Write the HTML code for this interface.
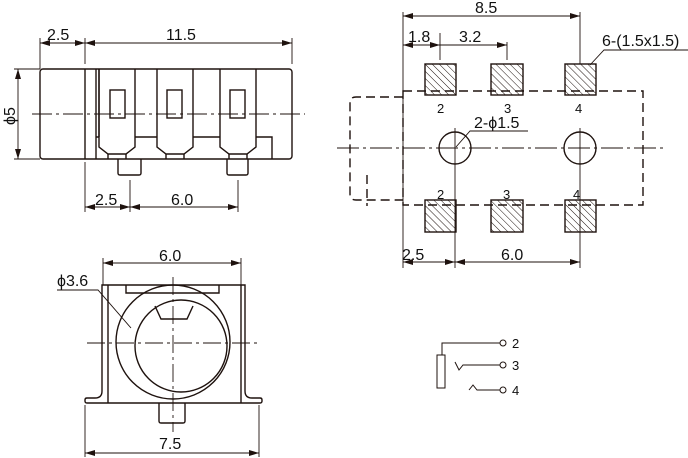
<!DOCTYPE html>
<html><head><style>body{margin:0;background:#fff}svg{display:block}</style></head><body>
<svg width="688" height="458" viewBox="0 0 688 458" xmlns="http://www.w3.org/2000/svg" font-family="Liberation Sans, sans-serif" fill="none" stroke="#1e120e" stroke-width="1.4">
<defs>
<marker id="a" viewBox="0 0 10 6" refX="10" refY="3" markerWidth="10" markerHeight="6" orient="auto-start-reverse" markerUnits="userSpaceOnUse"><path d="M0,0L10,3L0,6z" fill="#1e120e" stroke="none"/></marker>
<pattern id="h" width="5" height="5" patternUnits="userSpaceOnUse" patternTransform="rotate(-45)"><line x1="0" y1="0" x2="0" y2="5" stroke="#1e120e" stroke-width="1"/></pattern>
</defs>
<g fill="#111" stroke="none" font-size="16">
<text x="47" y="40">2.5</text><text x="166" y="40">11.5</text>
<text x="95" y="205">2.5</text><text x="171" y="205">6.0</text>
<text transform="translate(15,125) rotate(-90)">ϕ5</text>
<text x="475" y="13">8.5</text><text x="408" y="42">1.8</text><text x="459" y="42">3.2</text>
<text x="602" y="46">6-(1.5x1.5)</text><text x="474" y="128">2-ϕ1.5</text>
<text x="402" y="260">2.5</text><text x="501" y="260">6.0</text>
<text x="159" y="261">6.0</text><text x="57" y="286">ϕ3.6</text><text x="159" y="449">7.5</text>
<g font-size="13"><text x="437" y="113">2</text><text x="504" y="113">3</text><text x="575" y="113">4</text>
<text x="437" y="199">2</text><text x="503" y="199">3</text><text x="573" y="199">4</text>
<text x="512" y="348">2</text><text x="512" y="370">3</text><text x="512" y="395">4</text></g>
</g>
<!-- side view -->
<rect x="40" y="69" width="252" height="90" rx="3"/>
<line x1="85" y1="69" x2="85" y2="159"/><line x1="96" y1="69" x2="96" y2="159"/><line x1="99" y1="69" x2="99" y2="137"/>
<path d="M99,69V147L108,154H126L135,147V69"/><path d="M157,69V147L166,154H184L193,147V69"/><path d="M220,69V147L229,154H247L256,147V69"/>
<path d="M108,154V159M126,154V159M166,154V159M184,154V159M229,154V159M247,154V159"/>
<path d="M96,137H99M135,137H157M193,137H220M256,137H272V159"/>
<rect x="110" y="90" width="15" height="28"/><rect x="167" y="90" width="15" height="28"/><rect x="230" y="90" width="15" height="28"/>
<path d="M118,159V173Q118,175 120,175H139Q141,175 141,173V159M227,159V173Q227,175 229,175H246Q248,175 248,173V159"/>
<line x1="32" y1="114" x2="305" y2="114" stroke-dasharray="20,4,3,4" stroke-width="0.9"/>
<g stroke-width="0.9">
<line x1="40" y1="38" x2="40" y2="69"/><line x1="85" y1="38" x2="85" y2="64"/><line x1="292" y1="38" x2="292" y2="64"/>
<line x1="40" y1="43" x2="85" y2="43" marker-start="url(#a)" marker-end="url(#a)"/><line x1="85" y1="43" x2="292" y2="43" marker-start="url(#a)" marker-end="url(#a)"/>
<line x1="14" y1="69" x2="40" y2="69"/><line x1="14" y1="159" x2="40" y2="159"/><line x1="18" y1="69" x2="18" y2="159" marker-start="url(#a)" marker-end="url(#a)"/>
<line x1="85" y1="162" x2="85" y2="212"/><line x1="130" y1="180" x2="130" y2="212"/><line x1="238" y1="180" x2="238" y2="212"/>
<line x1="85" y1="207" x2="130" y2="207" marker-start="url(#a)" marker-end="url(#a)"/><line x1="130" y1="207" x2="238" y2="207" marker-start="url(#a)" marker-end="url(#a)"/>
</g>
<!-- footprint -->
<g stroke-dasharray="9,5">
<path d="M403,91H643V205H403Z"/><path d="M403,97H356Q350,97 350,103V194Q350,200 356,200H403"/><line x1="367" y1="175" x2="367" y2="206"/>
</g>
<g fill="url(#h)">
<rect x="425" y="64" width="31" height="31"/><rect x="491" y="64" width="32" height="31"/><rect x="565" y="64" width="31" height="31"/>
<rect x="425" y="200" width="31" height="32"/><rect x="491" y="200" width="32" height="32"/><rect x="565" y="200" width="31" height="32"/>
</g>
<circle cx="455" cy="148" r="16"/><circle cx="580" cy="148" r="16"/>
<g stroke-width="0.9">
<line x1="337" y1="148" x2="663" y2="148" stroke-dasharray="22,4,3,4"/>
<line x1="455" y1="128" x2="455" y2="268"/><line x1="580" y1="128" x2="580" y2="268"/>
<line x1="403" y1="12" x2="403" y2="268"/><line x1="580" y1="12" x2="580" y2="64"/>
<line x1="403" y1="16" x2="580" y2="16" marker-start="url(#a)" marker-end="url(#a)"/>
<line x1="440" y1="33" x2="440" y2="60"/><line x1="507" y1="42" x2="507" y2="60"/>
<line x1="403" y1="45" x2="440" y2="45" marker-start="url(#a)" marker-end="url(#a)"/><line x1="440" y1="45" x2="507" y2="45" marker-end="url(#a)"/>
<path d="M688,50H604L590,65" /><path d="M528,131H470L456,147"/>
<line x1="403" y1="262" x2="455" y2="262" marker-start="url(#a)" marker-end="url(#a)"/><line x1="455" y1="262" x2="580" y2="262" marker-start="url(#a)" marker-end="url(#a)"/>
</g>
<!-- front view -->
<path d="M102,285V391Q102,398 95,398H87Q85,398 85,400V401Q85,403 87,403H260Q262,403 262,401V400Q262,398 260,398H252Q245,398 245,391V285Z"/>
<path d="M108,285V403M241,285V403"/><path d="M126,285V293H219V285"/>
<circle cx="173" cy="342" r="57"/><circle cx="181" cy="346" r="46"/>
<path d="M155,306L161,319H187L193,306"/>
<path d="M159,403V421Q159,423 161,423H183Q185,423 185,421V403"/>
<g stroke-width="0.9">
<line x1="87" y1="343" x2="260" y2="343" stroke-dasharray="18,4,3,4"/><line x1="173" y1="277" x2="173" y2="432" stroke-dasharray="18,4,3,4"/>
<line x1="103" y1="258" x2="103" y2="285"/><line x1="241" y1="258" x2="241" y2="285"/>
<line x1="103" y1="263" x2="241" y2="263" marker-start="url(#a)" marker-end="url(#a)"/>
<path d="M57,290H98L131,328"/>
<line x1="85" y1="405" x2="85" y2="457"/><line x1="259" y1="405" x2="259" y2="457"/>
<line x1="85" y1="453" x2="259" y2="453" marker-start="url(#a)" marker-end="url(#a)"/>
</g>
<!-- schematic -->
<g stroke-width="1">
<path d="M442,355V343H500"/><rect x="437" y="355" width="8" height="33"/>
<circle cx="503" cy="343" r="3"/><circle cx="503" cy="365" r="3"/><circle cx="503" cy="390" r="3"/>
<path d="M455,362L459,370L463,365H500"/><path d="M469,390L473,385L477,390H500"/>
</g>
</svg>
</body></html>
